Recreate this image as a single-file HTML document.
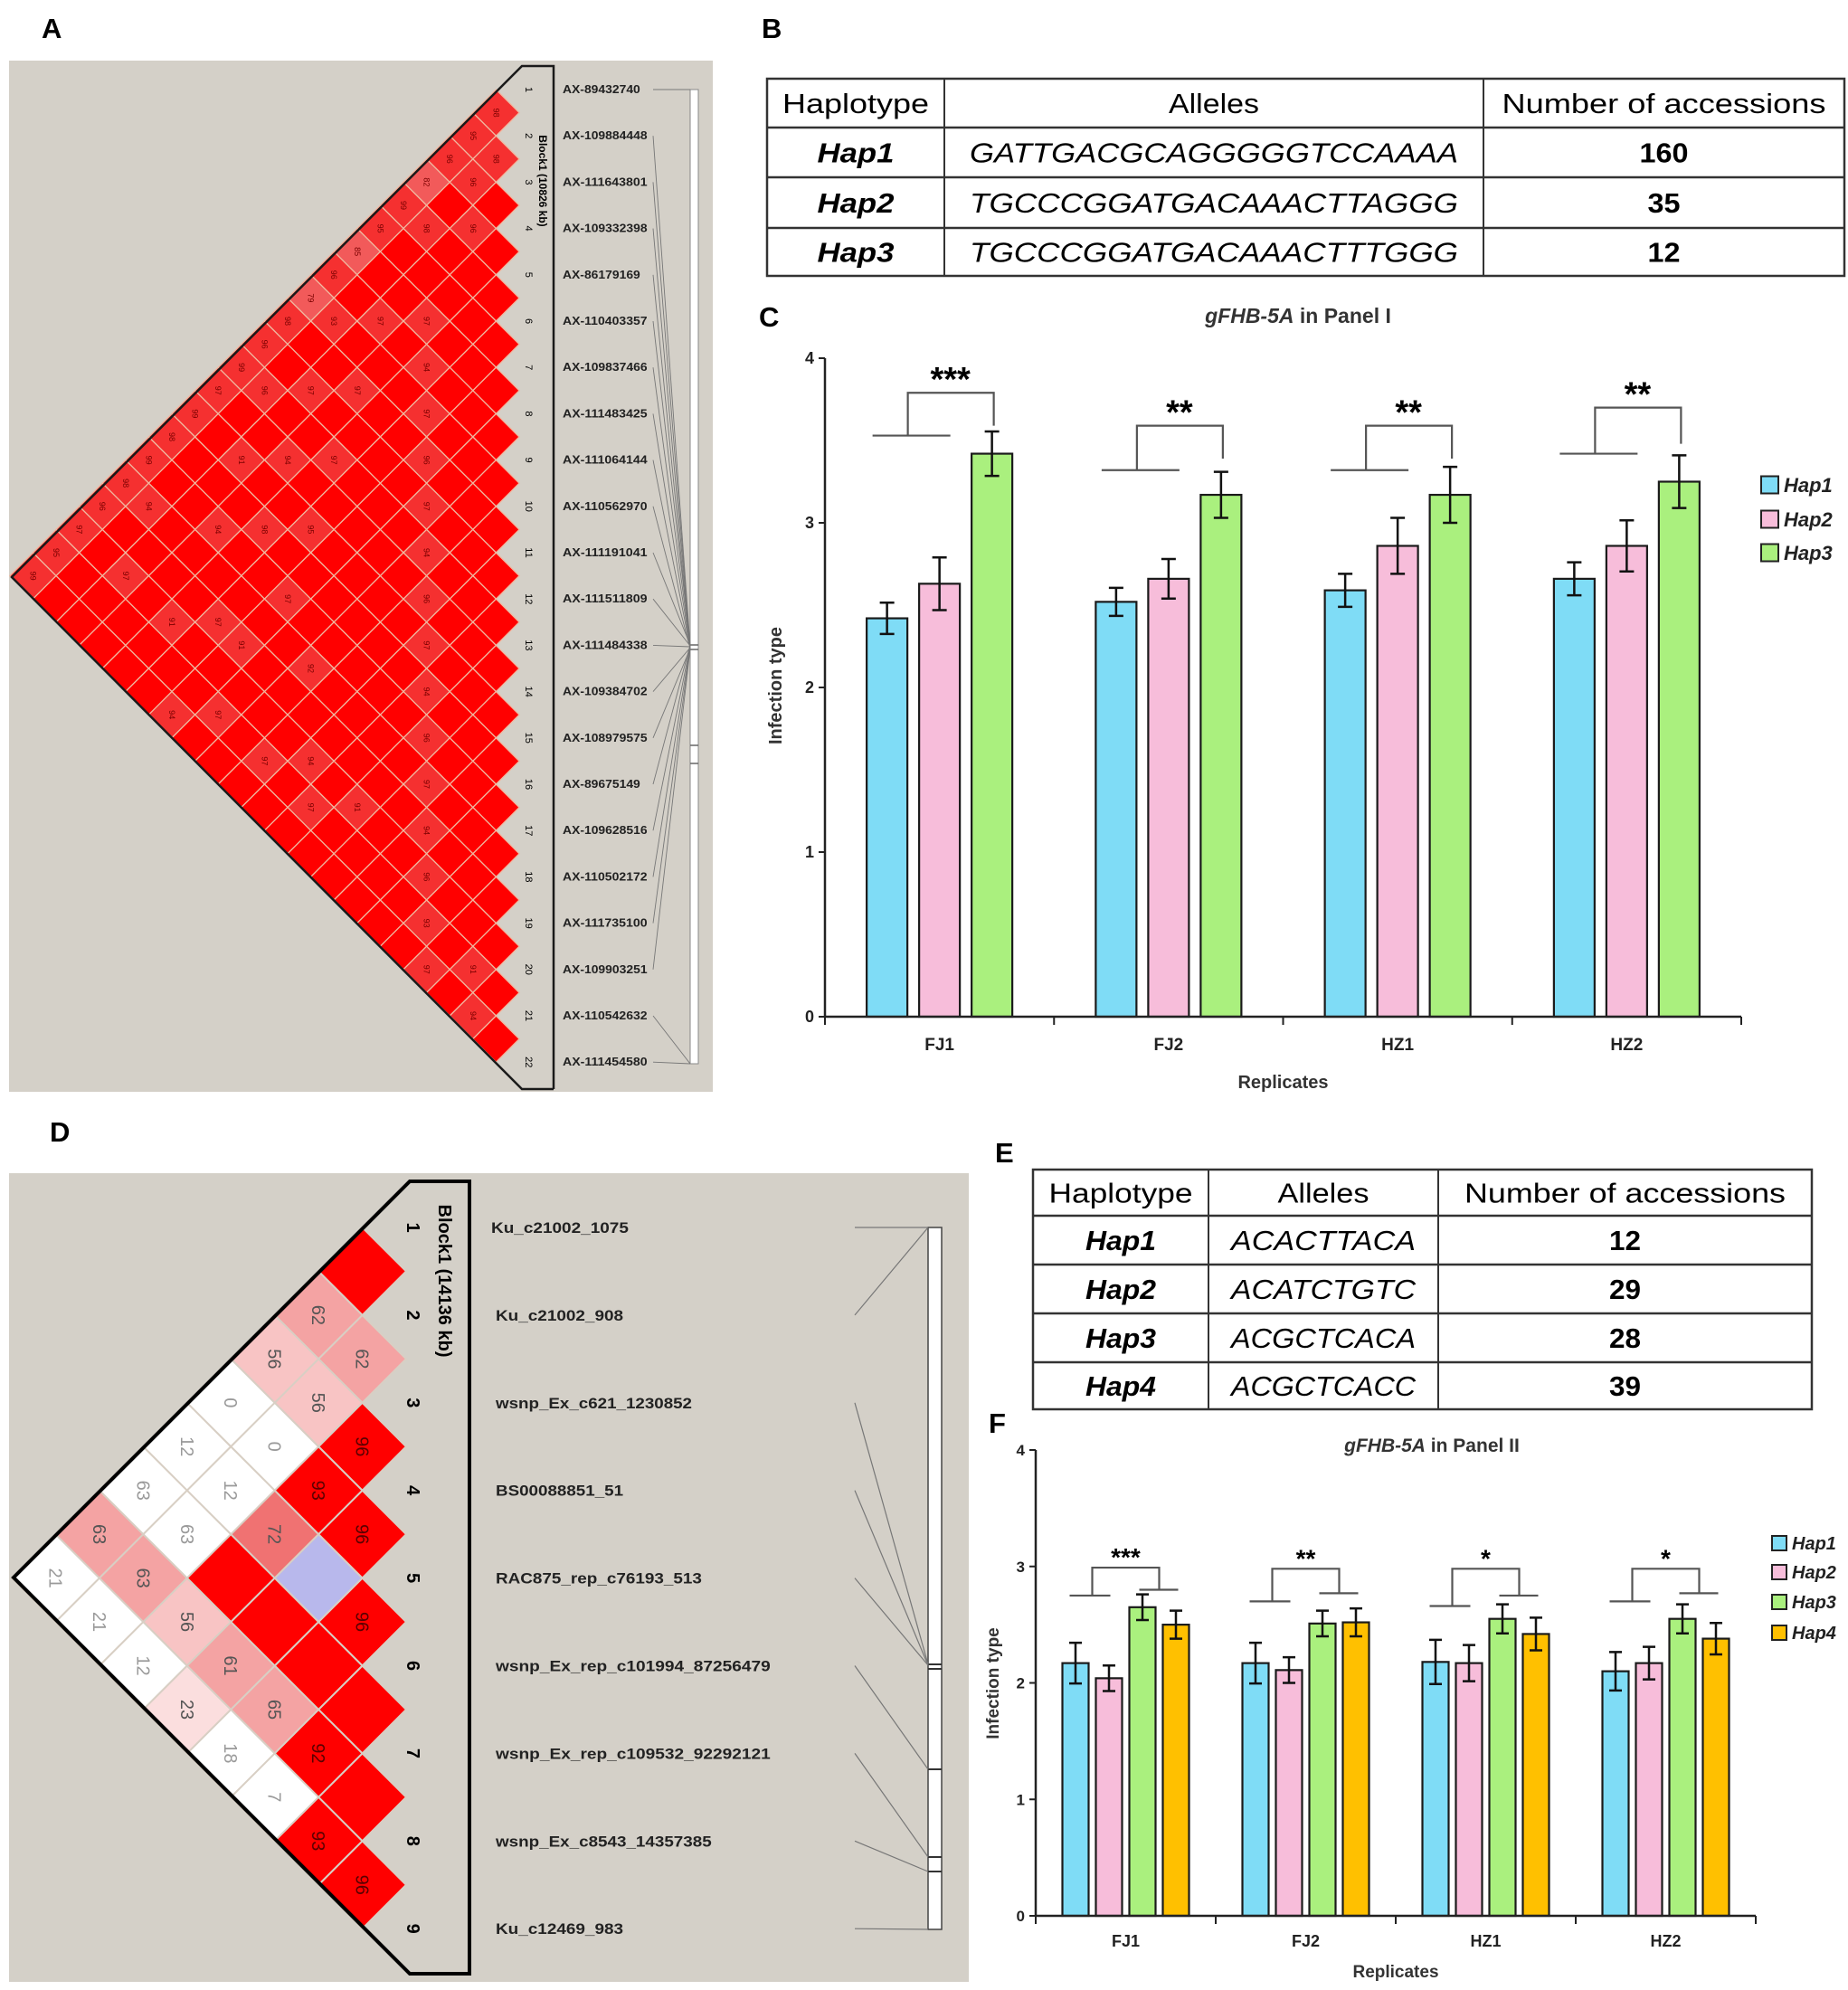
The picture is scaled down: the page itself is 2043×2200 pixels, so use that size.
<!DOCTYPE html>
<html><head><meta charset="utf-8"><title>gFHB-5A haplotype figure</title>
<style>
html,body{margin:0;padding:0;background:#fff;}
svg{display:block;font-family:"Liberation Sans",Arial,sans-serif;}
</style></head>
<body>
<svg id="fig" width="2043" height="2200" viewBox="0 0 2043 2200" xmlns="http://www.w3.org/2000/svg">
  <rect x="0" y="0" width="2043" height="2200" fill="#ffffff"/>
  <!-- Panel letters -->
  <text x="46" y="42" font-size="31" font-weight="bold">A</text>
  <text x="842" y="42" font-size="31" font-weight="bold">B</text>
  <text x="839" y="361" font-size="31" font-weight="bold">C</text>
  <text x="55" y="1262" font-size="31" font-weight="bold">D</text>
  <text x="1100" y="1285" font-size="31" font-weight="bold">E</text>
  <text x="1093" y="1584" font-size="31" font-weight="bold">F</text>

  <!-- Panel A background -->
  <rect x="10" y="67" width="778" height="1140" fill="#d4d0c8"/>
  <g id="ldA"></g>
  <!-- Panel D background -->
  <rect x="10" y="1297" width="1061" height="894" fill="#d4d0c8"/>
  <g id="ldD"></g>

  <g id="tableB"></g>
  <g id="tableE"></g>
  <g id="chartC"></g>
  <g id="chartF"></g>
</svg>
<script>
// ---------------- Chart C data ----------------
const catsC = ['FJ1','FJ2','HZ1','HZ2'];
const hapNamesC = ['Hap1','Hap2','Hap3'];
const hap1C = [2.42, 2.52, 2.59, 2.66];
const hap2C = [2.63, 2.66, 2.86, 2.86];
const hap3C = [3.42, 3.17, 3.17, 3.25];
const err1C = [0.095, 0.085, 0.10, 0.10];
const err2C = [0.16, 0.12, 0.17, 0.155];
const err3C = [0.135, 0.14, 0.17, 0.16];
const yTicksC = [0, 1, 2, 3, 4];
const sigLeftC = [3.53, 3.32, 3.32, 3.42];
const sigTopC = [3.79, 3.59, 3.59, 3.70];
const sigRightC = [3.59, 3.39, 3.39, 3.48];
const sigStarsC = ['***', '**', '**', '**'];

// ---------------- Chart F data ----------------
const catsF = ['FJ1','FJ2','HZ1','HZ2'];
const hapNamesF = ['Hap1','Hap2','Hap3','Hap4'];
const hap1F = [2.17, 2.17, 2.18, 2.10];
const hap2F = [2.04, 2.11, 2.17, 2.17];
const hap3F = [2.65, 2.51, 2.55, 2.55];
const hap4F = [2.50, 2.52, 2.42, 2.38];
const err1F = [0.175, 0.175, 0.19, 0.165];
const err2F = [0.11, 0.11, 0.155, 0.14];
const err3F = [0.11, 0.11, 0.125, 0.125];
const err4F = [0.12, 0.12, 0.14, 0.135];
const yTicksF = [0, 1, 2, 3, 4];
const sigLeftF = [2.75, 2.70, 2.66, 2.70];
const sigRightF = [2.80, 2.77, 2.75, 2.77];
const sigTopF = [2.99, 2.98, 2.98, 2.98];
const sigStarsF = ['***', '**', '*', '*'];

// ---------------- LD data ----------------
const markersA = ['AX-89432740','AX-109884448','AX-111643801','AX-109332398','AX-86179169','AX-110403357','AX-109837466','AX-111483425','AX-111064144','AX-110562970','AX-111191041','AX-111511809','AX-111484338','AX-109384702','AX-108979575','AX-89675149','AX-109628516','AX-110502172','AX-111735100','AX-109903251','AX-110542632','AX-111454580'];
// [i, j, D'] for cells with D' < 100 (all others are 100 / full red)
const ldCellsA = [[0,1,98],[0,2,95],[0,3,96],[0,4,82],[0,5,99],[0,6,95],[0,7,85],[0,8,96],[0,9,79],[0,10,98],[0,11,96],[0,12,99],[0,13,97],[0,14,99],[0,15,98],[0,16,99],[0,17,98],[0,18,96],[0,19,97],[0,20,95],[0,21,99],
 [1,2,98],[1,3,96],[2,4,96],[1,5,98],[3,7,97],[4,8,94],[5,9,97],[2,8,97],[6,10,96],[7,11,97],[8,12,94],[3,10,97],[9,13,96],[10,14,97],[4,12,97],[11,15,94],[12,16,96],[5,14,95],[13,17,97],[14,18,94],[6,16,97],[15,19,96],[16,20,93],[17,21,97],[18,20,91],[19,21,94],[8,17,92],[10,19,94],[1,12,96],[2,14,91],[3,16,94],[5,18,97],[7,20,97],[1,9,93],[2,11,97],[3,13,94],[4,15,98],[6,18,91],[9,20,97],[1,17,94],[2,19,97],[4,19,91],[6,21,94],[11,20,97],[12,19,91]];
const markersD = ['Ku_c21002_1075','Ku_c21002_908','wsnp_Ex_c621_1230852','BS00088851_51','RAC875_rep_c76193_513','wsnp_Ex_rep_c101994_87256479','wsnp_Ex_rep_c109532_92292121','wsnp_Ex_c8543_14357385','Ku_c12469_983'];
// [i, j, D', LOD class: 3=strong red, 2=mid, 1=light, 0=white, -1=lavender]
const ldCellsD = [[0,1,100,3],[1,2,62,2],[2,3,96,3],[3,4,96,3],[4,5,96,3],[5,6,100,3],[6,7,100,3],[7,8,96,3],
 [0,2,62,2],[1,3,56,1],[2,4,93,3],[3,5,100,-1],[4,6,100,3],[5,7,92,3],[6,8,93,3],
 [0,3,56,1],[1,4,0,0],[2,5,72,4],[3,6,100,3],[4,7,65,2],[5,8,7,0],
 [0,4,0,0],[1,5,12,0],[2,6,100,3],[3,7,61,2],[4,8,18,0],
 [0,5,12,0],[1,6,63,0],[2,7,56,1],[3,8,23,5],
 [0,6,63,0],[1,7,63,2],[2,8,12,0],
 [0,7,63,2],[1,8,21,0],
 [0,8,21,0]];

// ---------------- Table data ----------------
const tableBRows = [['Hap1','GATTGACGCAGGGGGTCCAAAA','160'],['Hap2','TGCCCGGATGACAAACTTAGGG','35'],['Hap3','TGCCCGGATGACAAACTTTGGG','12']];
const tableERows = [['Hap1','ACACTTACA','12'],['Hap2','ACATCTGTC','29'],['Hap3','ACGCTCACA','28'],['Hap4','ACGCTCACC','39']];

const NS = 'http://www.w3.org/2000/svg';
function mk(tag, attrs, parent, txt){
  const e = document.createElementNS(NS, tag);
  for (const k in attrs) e.setAttribute(k, attrs[k]);
  if (txt !== undefined) e.textContent = txt;
  parent.appendChild(e);
  return e;
}

// ================= LD plot A =================
(function(){
  const g = document.getElementById('ldA');
  const n = markersA.length, y0 = 99, s = 51.2, h = s/2, xr = 574;
  const ym = k => y0 + k*s;
  const lookup = {};
  ldCellsA.forEach(c => lookup[c[0]+'_'+c[1]] = c[2]);
  for (let i=0;i<n;i++) for (let j=i+1;j<n;j++){
    const d = j-i, cx = xr - d*h, cy = (ym(i)+ym(j))/2;
    const v = lookup[i+'_'+j];
    const fill = v===undefined ? '#ff0000' : (v>=90 ? '#f53030' : '#f25a5a');
    const p = mk('polygon',{points:`${cx},${cy-h} ${cx+h},${cy} ${cx},${cy+h} ${cx-h},${cy}`, fill:fill, stroke:'#f0b8a0','stroke-width':1.3}, g);
    
    
    if (v!==undefined){
      const t = mk('text',{x:cx,y:cy+3,'font-size':9,fill:'#7a0000','text-anchor':'middle',transform:`rotate(90 ${cx} ${cy})`}, g, String(v));
      
      
    }
  }
  const ol = mk('polyline',{points:`612,1204 577,1204 13,638 577,73 612,73 612,1204`, fill:'none', stroke:'#1a1a1a','stroke-width':2.5}, g);
  
  
  const bt = mk('text',{x:600,y:204,'font-size':12,'font-weight':'bold','text-anchor':'middle',transform:'rotate(90 600 200)'}, g, 'Block1  (10826 kb)');
  
  
  // bar
  const bar = mk('rect',{x:763,y:99,width:9,height:1077,fill:'#ffffff',stroke:'#888','stroke-width':1}, g);
  
  
  [713,718,824,844].forEach(yy=>{
    const l = mk('line',{x1:763,x2:772,y1:yy,y2:yy,stroke:'#666','stroke-width':1.5}, g);
    
    
  });
  for (let k=0;k<n;k++){
    const y = ym(k);
    const nt = mk('text',{x:585,y:y+4,'font-size':11,'text-anchor':'middle',transform:`rotate(90 585 ${y})`}, g, String(k+1));
    
    
    const lab = markersA[k];
    const lt = mk('text',{x:622,y:y+4,'font-size':12.5,'font-weight':'bold',fill:'#222',textLength:lab.length*7.8,lengthAdjust:'spacingAndGlyphs'}, g, lab);
    
    
    const ty = k===0 ? 99 : (k===n-1 || k===n-2 ? 1176 : 713 + (k%5));
    const ln = mk('line',{x1:722,y1:y,x2:763,y2:ty,stroke:'#777','stroke-width':0.9}, g);
    
    
  }
})();

// ================= LD plot D =================
(function(){
  const g = document.getElementById('ldD');
  const n = markersD.length, y0 = 1357, s = 96.9, h = s/2, xr = 449;
  const ym = k => y0 + k*s;
  const fills = {3:'#ff0000',4:'#f07272',2:'#f4a3a3',1:'#f8c4c4',5:'#fbdede',0:'#ffffff','-1':'#b8b8ec'};
  ldCellsD.forEach(c=>{
    const [i,j,v,cls] = c, d=j-i, cx = xr - d*h, cy=(ym(i)+ym(j))/2;
    const p = mk('polygon',{points:`${cx},${cy-h} ${cx+h},${cy} ${cx},${cy+h} ${cx-h},${cy}`, fill:fills[cls], stroke:'#d8cfc4','stroke-width':2}, g);
    
    
    if (v<100){
      const col = cls===0 ? '#9a9a9a' : (cls===3 ? '#5a0000' : '#555');
      const t = mk('text',{x:cx,y:cy+7,'font-size':20,fill:col,'text-anchor':'middle',transform:`rotate(90 ${cx} ${cy})`}, g, String(v));
      
      
    }
  });
  const ol = mk('polygon',{points:'453,1306 519,1306 519,2182 453,2182 15,1744', fill:'none', stroke:'#000','stroke-width':4}, g);
  
  
  const bt = mk('text',{x:492,y:1423,'font-size':20,'font-weight':'bold','text-anchor':'middle',transform:'rotate(90 492 1416)'}, g, 'Block1  (14136 kb)');
  
  
  const bar = mk('rect',{x:1026,y:1357,width:15,height:776,fill:'#ffffff',stroke:'#444','stroke-width':1.5}, g);
  
  
  const targets = [1357,1357,1840,1841,1841,1956,2053,2069,2133];
  [1840,1845,1956,2053,2069].forEach(yy=>{
    const l = mk('line',{x1:1026,x2:1041,y1:yy,y2:yy,stroke:'#333','stroke-width':2}, g);
    
    
  });
  for (let k=0;k<n;k++){
    const y = ym(k);
    const nt = mk('text',{x:457,y:y+7,'font-size':20,'font-weight':'bold','text-anchor':'middle',transform:`rotate(90 457 ${y})`}, g, String(k+1));
    
    
    const lab = markersD[k];
    const lt = mk('text',{x:k===0?543:548,y:y+6,'font-size':17,'font-weight':'bold',fill:'#222',textLength:lab.length*10.85,lengthAdjust:'spacingAndGlyphs'}, g, lab);
    
    
    const ln = mk('line',{x1:945,y1:y,x2:1026,y2:targets[k],stroke:'#777','stroke-width':1.2}, g);
    
    
  }
})();

// ================= Tables =================
function drawTable(gid, x0, colX, x1, rowsY, header, rows, widths, fs){
  const g = document.getElementById(gid);
  const bg = mk('rect',{x:x0,y:rowsY[0],width:x1-x0,height:rowsY[rowsY.length-1]-rowsY[0],fill:'#fff',stroke:'#333','stroke-width':2.5}, g);
  
  
  rowsY.slice(1,-1).forEach(y=>{
    const l = mk('line',{x1:x0,x2:x1,y1:y,y2:y,stroke:'#333','stroke-width':2.5}, g);
    
    
  });
  colX.forEach(x=>{
    const l = mk('line',{x1:x,x2:x,y1:rowsY[0],y2:rowsY[rowsY.length-1],stroke:'#333','stroke-width':2}, g);
    
    
  });
  const cx = [(x0+colX[0])/2,(colX[0]+colX[1])/2,(colX[1]+x1)/2];
  const all = [header].concat(rows);
  all.forEach((r,ri)=>{
    const cy = (rowsY[ri]+rowsY[ri+1])/2;
    r.forEach((txt,ci)=>{
      const w = widths[ri===0?0:1][ci] * (ci===2 && ri>0 ? txt.length/2 : 1);
      const attrs = {x:cx[ci],y:cy+fs*0.36,'font-size':fs,'text-anchor':'middle',fill:'#000',textLength:w,lengthAdjust:'spacingAndGlyphs'};
      if (ri>0 && ci<2) attrs['font-style']='italic';
      if (ri>0) attrs['font-weight']='bold';
      if (ri>0 && ci===1) attrs['font-weight']='normal';
      const t = mk('text',attrs,g,txt);
      
      
    });
  });
}
drawTable('tableB', 848, [1044,1640], 2039, [87,141,196,252,305], ['Haplotype','Alleles','Number of accessions'], tableBRows, [[162,100,358],[85,540,36]], 31);
drawTable('tableE', 1142, [1336,1590], 2003, [1293,1344,1398,1452,1506,1558], ['Haplotype','Alleles','Number of accessions'], tableERows, [[159,101,355],[78,204,35]], 31);

// ================= Bar charts =================
const colors = ['#7fdcf6','#f7bdda','#aaf07e','#ffc000'];
function drawChart(o){
  const g = document.getElementById(o.id);
  const ys = v => o.y0 - v*(o.y0-o.y4)/4;
  const gw = (o.xEnd-o.x0)/o.cats.length;
  const gc = i => o.x0 + gw*(i+0.5);
  const nS = o.series.length;
  // bars
  o.cats.forEach((c,i)=>{
    o.series.forEach((ser,k)=>{
      const bx = gc(i) + (k-(nS-1)/2)*o.step - o.bw/2;
      const v = ser[i];
      const r = mk('rect',{x:bx,y:ys(v),width:o.bw,height:o.y0-ys(v),fill:colors[k],stroke:'#1a1a1a','stroke-width':2.2}, g);
      
      
      const e = o.errs[k][i], mx = bx+o.bw/2;
      const eb = mk('path',{d:`M${mx},${ys(v+e)}V${ys(v-e)}M${mx-o.cap},${ys(v+e)}H${mx+o.cap}M${mx-o.cap},${ys(v-e)}H${mx+o.cap}`,stroke:'#111','stroke-width':2.5,fill:'none'}, g);
      
      
    });
    // significance bracket
    const sg = o.sig;
    const p = mk('path',{d:sg.path(gc(i), i, ys), stroke:'#555','stroke-width':2.2,fill:'none'}, g);
    
    
    const st = mk('text',{x:sg.starX(gc(i)),y:ys(sg.top[i])-2,'font-size':o.starFs,'font-weight':'bold','text-anchor':'middle'}, g, sg.stars[i]);
    
    
    const xl = mk('text',{x:gc(i),y:o.xLabY,'font-size':o.tickFs+1,'font-weight':'bold','text-anchor':'middle',fill:'#222'}, g, c);
    
    
  });
  // axes
  const ax = mk('path',{d:`M${o.x0},${o.y4}V${o.y0}H${o.xEnd}`,stroke:'#222','stroke-width':2.5,fill:'none'}, g);
  
  
  for (let i=0;i<=o.cats.length;i++){
    const x = o.x0+gw*i;
    const t = mk('line',{x1:x,x2:x,y1:o.y0,y2:o.y0+9,stroke:'#222','stroke-width':2}, g);
    
    
  }
  o.yTicks.forEach(v=>{
    const t = mk('line',{x1:o.x0-7,x2:o.x0,y1:ys(v),y2:ys(v),stroke:'#222','stroke-width':2}, g);
    
    
    const l = mk('text',{x:o.x0-12,y:ys(v)+6,'font-size':o.tickFs,'font-weight':'bold','text-anchor':'end',fill:'#222'}, g, String(v));
    
    
  });
  const xt = mk('text',{x:(o.x0+o.xEnd)/2,y:o.xTitleY,'font-size':o.tickFs+2,'font-weight':'bold','text-anchor':'middle',fill:'#333'}, g, 'Replicates');
  
  
  const yt = mk('text',{x:o.yTitleX,y:o.yTitleY,'font-size':o.tickFs+2,'font-weight':'bold','text-anchor':'middle',fill:'#333',transform:`rotate(-90 ${o.yTitleX} ${o.yTitleY})`}, g, 'Infection type');
  
  
  const tt = mk('text',{x:o.titleX,y:o.titleY,'font-size':o.titleFs,'font-weight':'bold','text-anchor':'middle',fill:'#333'}, g);
  
  
  mk('tspan',{'font-style':'italic'},tt,'gFHB-5A');
  mk('tspan',{},tt,o.titleRest);
  o.hapNames.forEach((h,k)=>{
    const y = o.legY[k];
    const b = mk('rect',{x:o.legX,y:y-o.legBox/2,width:o.legBox,height:o.legBox,fill:colors[k],stroke:'#222','stroke-width':2}, g);
    
    
    const t = mk('text',{x:o.legX+o.legBox+6,y:y+o.legFs*0.36,'font-size':o.legFs,'font-weight':'bold','font-style':'italic',fill:'#222'}, g, h);
    
    
  });
}

drawChart({
  id:'chartC', cats:catsC, hapNames:hapNamesC, series:[hap1C,hap2C,hap3C], errs:[err1C,err2C,err3C], yTicks:yTicksC,
  x0:912, xEnd:1925, y0:1124, y4:396, bw:45, step:58, cap:8, tickFs:18, starFs:38,
  xLabY:1161, xTitleY:1203, yTitleX:864, yTitleY:758, titleX:1435, titleY:357, titleFs:23, titleRest:' in Panel I',
  legX:1947, legY:[536,574,611], legBox:19, legFs:22,
  sig:{top:sigTopC, stars:sigStarsC,
    path:(c,i,ys)=>`M${c-74},${ys(sigLeftC[i])}H${c+12}M${c-35},${ys(sigLeftC[i])}V${ys(sigTopC[i])}H${c+60}V${ys(sigRightC[i])}`,
    starX:c=>c+12}
});
drawChart({
  id:'chartF', cats:catsF, hapNames:hapNamesF, series:[hap1F,hap2F,hap3F,hap4F], errs:[err1F,err2F,err3F,err4F], yTicks:yTicksF,
  x0:1145, xEnd:1941, y0:2118, y4:1603, bw:29, step:37, cap:7, tickFs:17, starFs:28,
  xLabY:2152, xTitleY:2186, yTitleX:1104, yTitleY:1861, titleX:1583, titleY:1605, titleFs:21, titleRest:' in Panel II',
  legX:1959, legY:[1706,1738,1771,1805], legBox:16, legFs:20,
  sig:{top:sigTopF, stars:sigStarsF,
    path:(c,i,ys)=>`M${c-62},${ys(sigLeftF[i])}H${c-17}M${c+15},${ys(sigRightF[i])}H${c+58}M${c-37},${ys(sigLeftF[i])}V${ys(sigTopF[i])}H${c+37}V${ys(sigRightF[i])}`,
    starX:c=>c}
});
</script>
</body></html>
